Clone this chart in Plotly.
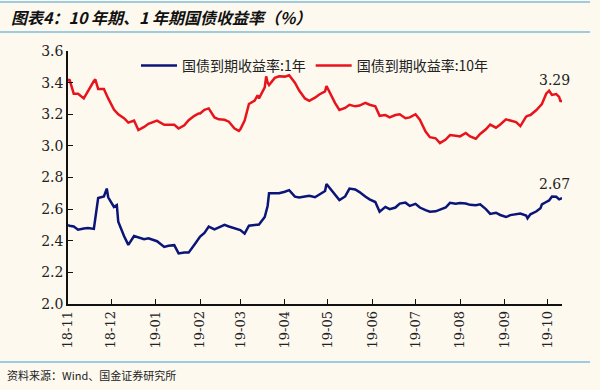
import plotly.graph_objects as go

dates = [
    "2018-11-01", "2018-11-02", "2018-11-05", "2018-11-08", "2018-11-12", "2018-11-15", "2018-11-19",
    "2018-11-20", "2018-11-22", "2018-11-26", "2018-11-28", "2018-11-29",
    "2018-12-03", "2018-12-05", "2018-12-06", "2018-12-10", "2018-12-13", "2018-12-17", "2018-12-20",
    "2018-12-24", "2018-12-27",
    "2019-01-02", "2019-01-07", "2019-01-10", "2019-01-14", "2019-01-17", "2019-01-21", "2019-01-24",
    "2019-01-28", "2019-01-31",
    "2019-02-01", "2019-02-04", "2019-02-07", "2019-02-11", "2019-02-14", "2019-02-18", "2019-02-21",
    "2019-02-25", "2019-02-28",
    "2019-03-01", "2019-03-04", "2019-03-07", "2019-03-11", "2019-03-13", "2019-03-14", "2019-03-18",
    "2019-03-19", "2019-03-20", "2019-03-21", "2019-03-25", "2019-03-28",
    "2019-04-01", "2019-04-04", "2019-04-08", "2019-04-11", "2019-04-15", "2019-04-18", "2019-04-22",
    "2019-04-25", "2019-04-29", "2019-04-30",
    "2019-05-06", "2019-05-09", "2019-05-13", "2019-05-16", "2019-05-20", "2019-05-23", "2019-05-27",
    "2019-05-30",
    "2019-06-03", "2019-06-06", "2019-06-10", "2019-06-13", "2019-06-17", "2019-06-20", "2019-06-24",
    "2019-06-27",
    "2019-07-01", "2019-07-04", "2019-07-08", "2019-07-11", "2019-07-15", "2019-07-18", "2019-07-22",
    "2019-07-25", "2019-07-29",
    "2019-08-01", "2019-08-05", "2019-08-08", "2019-08-12", "2019-08-15", "2019-08-19", "2019-08-22",
    "2019-08-26", "2019-08-29",
    "2019-09-02", "2019-09-05", "2019-09-09", "2019-09-12", "2019-09-16", "2019-09-17", "2019-09-19",
    "2019-09-23", "2019-09-26", "2019-09-27", "2019-09-30",
    "2019-10-02", "2019-10-04", "2019-10-07", "2019-10-09", "2019-10-10", "2019-10-11",
]

yield_1y = [
    2.50, 2.495, 2.49, 2.47, 2.478, 2.48, 2.475,
    2.53, 2.67, 2.68, 2.73, 2.675,
    2.614, 2.625, 2.52, 2.43, 2.374, 2.43, 2.42,
    2.41, 2.415,
    2.397, 2.361, 2.368, 2.372, 2.32, 2.325, 2.325,
    2.375, 2.42,
    2.426, 2.45, 2.49, 2.472, 2.485, 2.50, 2.49,
    2.48, 2.47,
    2.468, 2.445, 2.495, 2.50, 2.50, 2.502, 2.55,
    2.58, 2.62, 2.70, 2.70, 2.70,
    2.71, 2.72, 2.679, 2.674, 2.68, 2.685, 2.675,
    2.69, 2.715, 2.759,
    2.69, 2.657, 2.68, 2.73, 2.724, 2.708, 2.68,
    2.662,
    2.645, 2.584, 2.614, 2.60, 2.61, 2.635, 2.641,
    2.62,
    2.633, 2.61, 2.594, 2.584, 2.586, 2.597, 2.61,
    2.64, 2.634,
    2.638, 2.635, 2.627, 2.625, 2.63, 2.60, 2.57,
    2.577, 2.563,
    2.55, 2.562, 2.568, 2.572, 2.56, 2.542, 2.567,
    2.585, 2.605, 2.63, 2.645,
    2.655, 2.68, 2.678, 2.662, 2.668, 2.67,
]

yield_10y = [
    3.41, 3.42, 3.33, 3.33, 3.30, 3.35, 3.41,
    3.42, 3.36, 3.36, 3.318, 3.30,
    3.23, 3.205, 3.20, 3.175, 3.147, 3.16, 3.10,
    3.12, 3.14,
    3.16, 3.133, 3.133, 3.133, 3.11, 3.13, 3.162,
    3.19, 3.205,
    3.205, 3.228, 3.237, 3.18, 3.168, 3.165, 3.153,
    3.11, 3.095,
    3.105, 3.16, 3.265, 3.287, 3.32, 3.30, 3.37,
    3.44, 3.40, 3.385, 3.43, 3.44,
    3.438, 3.447, 3.40, 3.35, 3.30, 3.285, 3.305,
    3.325, 3.345, 3.379,
    3.27, 3.227, 3.24, 3.26, 3.25, 3.255, 3.272,
    3.26,
    3.25, 3.19, 3.195, 3.18, 3.195, 3.20, 3.175,
    3.18,
    3.20, 3.165, 3.09, 3.055, 3.048, 3.018, 3.04,
    3.068, 3.064,
    3.06, 3.082, 3.06, 3.045, 3.075, 3.105, 3.135,
    3.115, 3.135,
    3.168, 3.16, 3.15, 3.125, 3.185, 3.19, 3.195,
    3.225, 3.252, 3.265, 3.33,
    3.349, 3.322, 3.328, 3.31, 3.279, 3.29,
]

series_names = ["国债到期收益率:1年", "国债到期收益率:10年"]
last_labels = ["2.67", "3.29"]
y_ticks = [2.0, 2.2, 2.4, 2.6, 2.8, 3.0, 3.2, 3.4, 3.6]

BG = "#FDF9EF"
BLUE = "#0B1478"
RED = "#E8141C"
LINE = "#7DBBDB"
SERIF = "DejaVu Serif"
CJK = "Noto Sans CJK SC"

fig = go.Figure()
fig.add_trace(go.Scatter(x=dates, y=yield_1y, mode="lines", name=series_names[0],
                         line=dict(color=BLUE, width=2.5)))
fig.add_trace(go.Scatter(x=dates, y=yield_10y, mode="lines", name=series_names[1],
                         line=dict(color=RED, width=2.5)))

# last value labels
fig.add_annotation(x=dates[-1], y=yield_1y[-1], text=last_labels[0], showarrow=False,
                   xanchor="center", yanchor="bottom", xshift=-8, yshift=4,
                   font=dict(family=SERIF, size=14, color="#222"))
fig.add_annotation(x=dates[-1], y=yield_10y[-1], text=last_labels[1], showarrow=False,
                   xanchor="center", yanchor="bottom", xshift=-8, yshift=10,
                   font=dict(family=SERIF, size=14, color="#222"))

L, R, T, B = 68, 38, 51, 86
W, H = 600, 390
pw, ph = W - L - R, H - T - B


def px_x(x):
    return (x - L) / pw


def px_y(y):
    return (H - B - y) / ph


# title and source
fig.add_annotation(xref="paper", yref="paper", x=px_x(9), y=px_y(17),
                   text="<b><i>图表4：10 年期、1 年期国债收益率（%）</i></b>",
                   showarrow=False, xanchor="left", yanchor="middle",
                   font=dict(family=CJK, size=16, color="#111"))
fig.add_annotation(xref="paper", yref="paper", x=px_x(5), y=px_y(375),
                   text="资料来源：Wind、国金证券研究所",
                   showarrow=False, xanchor="left", yanchor="middle",
                   font=dict(family=CJK, size=11, color="#222"))
for yy in (2, 32, 362):
    fig.add_shape(type="line", xref="paper", yref="paper", x0=px_x(0), x1=px_x(590),
                  y0=px_y(yy), y1=px_y(yy), line=dict(color=LINE, width=1.5))

fig.update_layout(
    width=W, height=H, autosize=False,
    paper_bgcolor=BG, plot_bgcolor=BG,
    margin=dict(l=L, r=R, t=T, b=B),
    showlegend=True,
    legend=dict(orientation="h", x=px_x(136), y=px_y(50), xanchor="left", yanchor="top",
                bgcolor="rgba(0,0,0,0)", font=dict(family=CJK, size=14, color="#222"),
                itemwidth=36, tracegroupgap=0),
    xaxis=dict(type="date", range=["2018-11-01", "2019-10-11"], tick0="2018-11-01", dtick="M1",
               tickformat="%y-%m", tickangle=-90, ticks="inside", ticklen=5, tickcolor="#111",
               showline=True, linecolor="#111", linewidth=1.5, showgrid=False, zeroline=False,
               tickfont=dict(family=SERIF, size=13, color="#222")),
    yaxis=dict(range=[2.0, 3.6], tickvals=y_ticks, tickformat=".1f", ticks="inside", ticklen=5,
               tickcolor="#111", showline=True, linecolor="#111", linewidth=1.5, showgrid=False,
               zeroline=False, tickfont=dict(family=SERIF, size=14, color="#222")),
)

fig.write_html("out.html",
               config={"displayModeBar": False},
               post_script="document.body.style.margin='0';document.body.style.background='#FDF9EF';")
